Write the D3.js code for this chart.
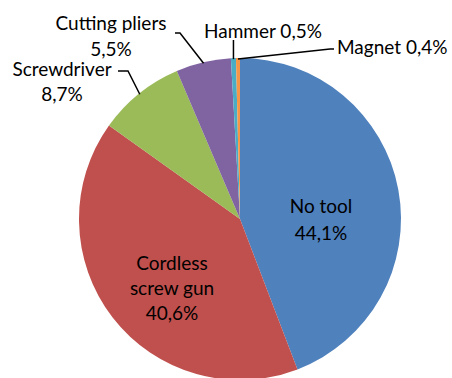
<!DOCTYPE html>
<html><head><meta charset="utf-8">
<script src="https://cdn.jsdelivr.net/npm/d3@7"></script>
<style>html,body{margin:0;padding:0;background:#fff;}svg{display:block;}</style>
</head><body>
<svg id="chart" width="452" height="378"></svg>
<script>
const categories = ["No tool", "Cordless screw gun", "Screwdriver", "Cutting pliers", "Hammer", "Magnet"];
const values = [44.1, 40.6, 8.7, 5.5, 0.5, 0.4];
const labelLines = [["No tool", "44,1%"], ["Cordless", "screw gun", "40,6%"], ["Screwdriver", "8,7%"], ["Cutting pliers", "5,5%"], ["Hammer 0,5%"], ["Magnet 0,4%"]];
const colors = ["#4F81BD", "#C0504D", "#9BBB59", "#8064A2", "#4BACC6", "#F79646"];

// layout
const cx = 240, cy = 219, r = 161;
const fontFamily = "Lato, 'Open Sans', sans-serif";
const fontSize = 19;
const layout = [
  {x: 321, y: 205, lh: 27, anchor: "middle"},
  {x: 172, y: 262, lh: 25, anchor: "middle"},
  {x: 62, y: 68, lh: 25, anchor: "middle", elbow: [128, 71], end: [118, 71]},
  {x: 111, y: 22, lh: 26, anchor: "middle", elbow: [180, 33], end: [175, 33]},
  {x: 263, y: 30, lh: 25, anchor: "middle", elbow: [232, 40], vertical: true},
  {x: 337, y: 46, lh: 25, anchor: "start", elbow: [330, 49], end: [334, 49]}
];

const svg = d3.select("#chart");
const g = svg.append("g").attr("transform", `translate(${cx},${cy})`);
const pie = d3.pie().sort(null).value(d => d)(values);
const arc = d3.arc().innerRadius(0).outerRadius(r);

g.selectAll("path.slice").data(pie).join("path")
  .attr("class", "slice")
  .attr("d", arc)
  .attr("fill", (d, i) => colors[i]);

pie.forEach((d, i) => {
  const L = layout[i];
  if (!L.elbow) return;
  const a = (d.startAngle + d.endAngle) / 2;
  const sx = cx + Math.sin(a) * (r - 1), sy = cy - Math.cos(a) * (r - 1);
  const pts = L.vertical ? [[sx, sy], [sx, L.elbow[1]]] : [[sx, sy], L.elbow, L.end];
  svg.append("path")
    .attr("d", d3.line()(pts))
    .attr("fill", "none").attr("stroke", "#000").attr("stroke-width", 1.5);
});

labelLines.forEach((lines, i) => {
  const L = layout[i];
  const t = svg.append("text")
    .attr("font-family", fontFamily).attr("font-size", fontSize)
    .attr("fill", "#000").attr("text-anchor", L.anchor);
  lines.forEach((s, j) => {
    t.append("tspan").attr("x", L.x).attr("y", L.y + j * L.lh)
      .attr("dominant-baseline", "central").text(s);
  });
});
</script>
</body></html>
